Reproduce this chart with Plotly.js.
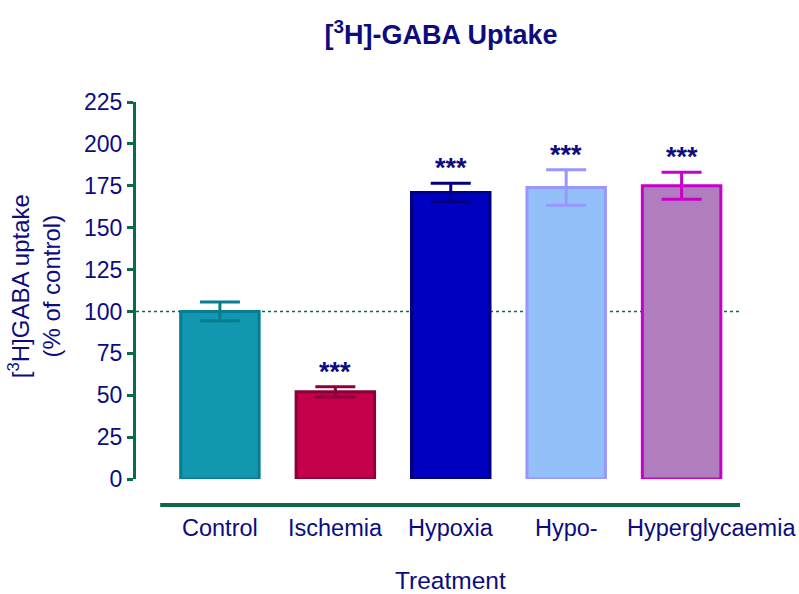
<!DOCTYPE html>
<html>
<head>
<meta charset="utf-8">
<script src="https://cdn.plot.ly/plotly-3.0.1.min.js"></script>
<style>html,body{margin:0;padding:0;background:#fff;}#chart{width:799px;height:594px;}</style>
</head>
<body>
<div id="chart"></div>
<script>
// ---- data ----
const categories = ["Control", "Ischemia", "Hypoxia", "Hypo-", "Hyperglycaemia"];
const uptake = [100, 52, 171, 174, 175];
const sem = [5.6, 3, 5.5, 10.6, 8];
const significance = ["", "***", "***", "***", "***"];
const yTicks = [0, 25, 50, 75, 100, 125, 150, 175, 200, 225];

// ---- styles ----
const fillColors = ["#1198B0", "#C4004A", "#0000C0", "#93C0F8", "#B07DBE"];
const lineColors = ["#077D94", "#8B0038", "#000080", "#9797FF", "#C800C8"];
const labelShift = [0, 0, 0, 0, 30];
const navy = "#0C0C80";
const green = "#0B6B45";
const font = "Liberation Sans, Arial, sans-serif";

const traces = categories.map((c, i) => ({
  type: "bar",
  x: [c],
  y: [uptake[i]],
  width: 0.68,
  marker: {color: fillColors[i], line: {color: lineColors[i], width: 3}},
  error_y: {type: "data", array: [sem[i]], visible: true, color: lineColors[i], thickness: 3, width: 20},
  showlegend: false,
  hoverinfo: "skip"
}));

const annotations = categories.map((c, i) => ({
  x: c, y: uptake[i] + sem[i], xref: "x", yref: "y",
  text: significance[i], showarrow: false,
  yanchor: "bottom", yshift: -2,
  font: {family: font, size: 27, color: navy, weight: "bold"}
})).filter(a => a.text !== "");

// category labels under the axis
categories.forEach((c, i) => {
  annotations.push({
    x: c, y: 0, xref: "x", yref: "y",
    text: c, showarrow: false, xanchor: "center", yanchor: "middle",
    xshift: labelShift[i], yshift: -49,
    font: {family: font, size: 23.5, color: navy}
  });
});

annotations.push({
  xref: "paper", yref: "paper", x: -0.168, y: 0.51,
  text: "[<sup>3</sup>H]GABA uptake<br>(% of control)",
  textangle: -90, showarrow: false, xanchor: "center", yanchor: "middle",
  font: {family: font, size: 24, color: navy}
});
annotations.push({
  xref: "paper", yref: "paper", x: 0.52, y: -0.268,
  text: "Treatment", showarrow: false, xanchor: "center", yanchor: "middle",
  font: {family: font, size: 24.5, color: navy}
});

const layout = {
  width: 799, height: 594,
  paper_bgcolor: "#fff", plot_bgcolor: "#fff",
  margin: {l: 136, r: 59, t: 102, b: 115},
  title: {
    text: "[<sup>3</sup>H]-GABA Uptake",
    font: {family: font, size: 27, color: navy, weight: "bold"},
    x: 0.552, xanchor: "center", y: 0.942, yanchor: "middle"
  },
  barmode: "overlay",
  xaxis: {
    type: "category", categoryorder: "array", categoryarray: categories,
    range: [-0.727, 4.506],
    showline: false, showgrid: false, zeroline: false, ticks: "",
    showticklabels: false
  },
  yaxis: {
    range: [0, 225], tickvals: yTicks, ticktext: yTicks.map(String),
    showline: true, linecolor: green, linewidth: 3,
    ticks: "outside", ticklen: 6, tickwidth: 3, tickcolor: green,
    showgrid: false, zeroline: false,
    tickfont: {family: font, size: 23, color: navy}
  },
  shapes: [
    {type: "line", xref: "paper", yref: "y", x0: 0, x1: 1, y0: 100, y1: 100,
     line: {color: green, width: 1.5, dash: "dot"}, layer: "below"},
    {type: "line", xref: "paper", yref: "paper", x0: 0.04, x1: 1, y0: -0.069, y1: -0.069,
     line: {color: green, width: 4}}
  ],
  annotations: annotations
};

Plotly.newPlot("chart", traces, layout, {displayModeBar: false, staticPlot: true});
</script>
</body>
</html>
